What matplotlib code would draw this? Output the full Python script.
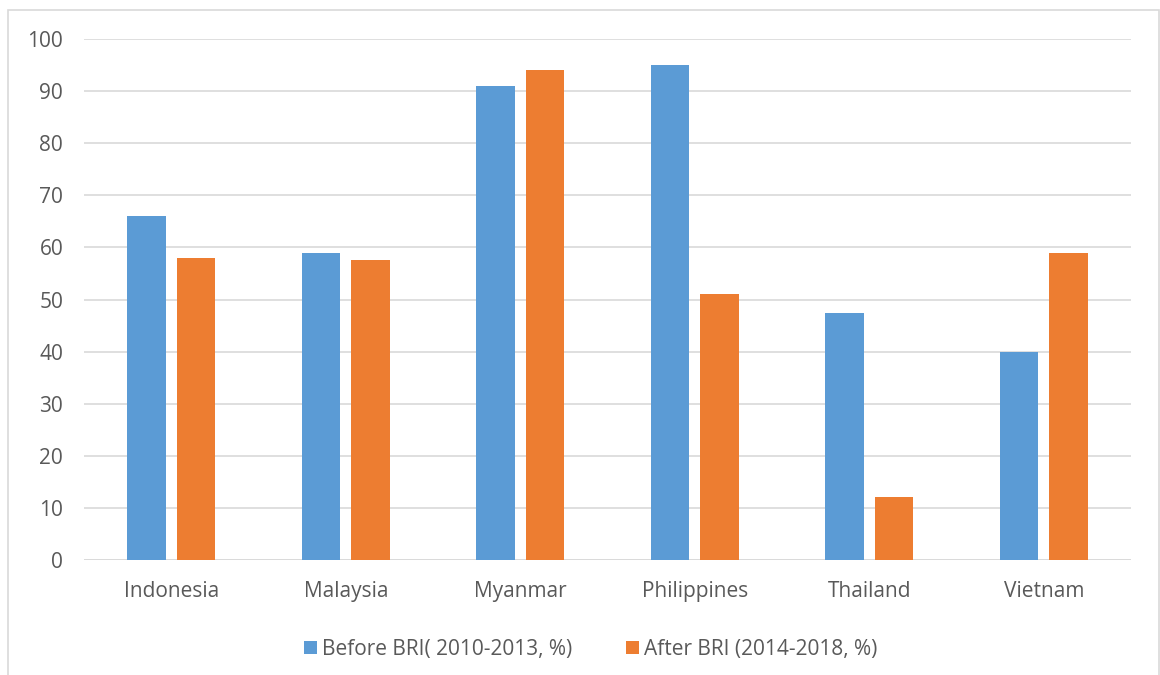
import numpy as np
import matplotlib.pyplot as plt
from matplotlib.patches import Rectangle

countries = ["Indonesia", "Malaysia", "Myanmar", "Philippines", "Thailand", "Vietnam"]
before_bri = [66, 59, 91, 95, 47.5, 40]
after_bri = [58, 57.5, 94, 51, 12, 59]
before_label = "Before BRI( 2010-2013, %)"
after_label = "After BRI (2014-2018, %)"

BLUE = "#5B9BD5"
ORANGE = "#ED7D31"
TEXT = "#595959"

plt.rcParams['font.family'] = ['Open Sans', 'DejaVu Sans']

fig = plt.figure(figsize=(11.6, 6.75), dpi=100)
ax = fig.add_axes([84 / 1160, 1 - 560 / 675, (1131 - 84) / 1160, (560 - 39) / 675])

# outer chart frame, like the excel chart border
fig.patches.append(Rectangle((8 / 1160, -0.05), 1151 / 1160, 1 - 10 / 675 + 0.05,
                             transform=fig.transFigure, fill=False,
                             edgecolor="#D9D9D9", linewidth=1.2))

x = np.arange(len(countries))
w = 0.223
off = 0.142
ax.bar(x - off, before_bri, w, color=BLUE, label=before_label, zorder=3)
ax.bar(x + off, after_bri, w, color=ORANGE, label=after_label, zorder=3)

ax.set_xlim(-0.5, len(countries) - 0.5)
ax.set_ylim(0, 100)
ax.set_yticks(range(0, 101, 10))
ax.set_xticks(x)
ax.set_xticklabels(countries)
ax.yaxis.grid(True, color="#D9D9D9", linewidth=1.2, zorder=0)
for s in ax.spines.values():
    s.set_visible(False)
ax.axhline(0, color="#D9D9D9", linewidth=1.2, zorder=2)
ax.tick_params(axis="both", length=0, labelsize=15, labelcolor=TEXT)
ax.tick_params(axis="y", pad=15)
ax.tick_params(axis="x", pad=15)

ax.legend(loc="upper center", bbox_to_anchor=(0.484, -0.115), ncol=2, frameon=False,
          fontsize=15, labelcolor=TEXT, handlelength=0.6, handleheight=0.6,
          handletextpad=0.25, columnspacing=2.6)

fig.savefig("out.png", dpi=100)
